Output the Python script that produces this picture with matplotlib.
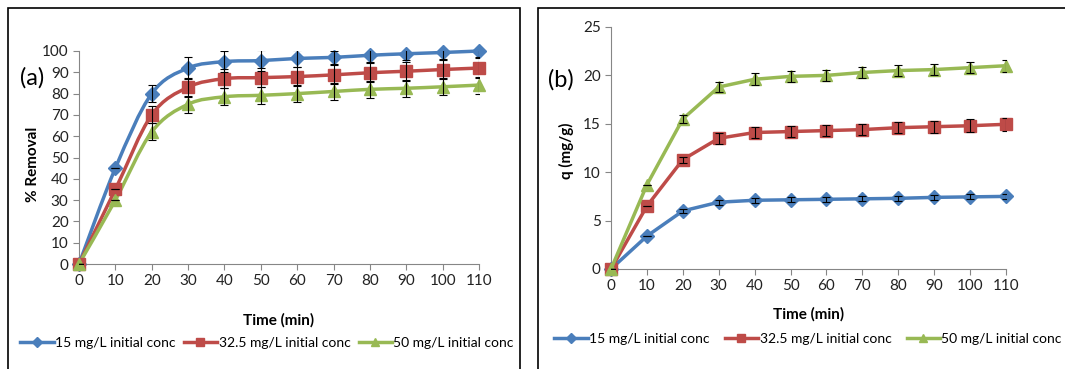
import matplotlib
matplotlib.use('Agg')
import matplotlib.pyplot as plt
import numpy as np
from matplotlib.path import Path
from matplotlib.patches import PathPatch, Rectangle
from matplotlib.lines import Line2D

plt.rcParams['font.family'] = ['Lato', 'DejaVu Sans']

# Data
time = [0, 10, 20, 30, 40, 50, 60, 70, 80, 90, 100, 110]
labels = ['15 mg/L initial conc', '32.5 mg/L initial conc', '50 mg/L initial conc']

removal_15 = [0, 45, 80, 92, 95, 95.5, 96.5, 97, 98, 98.7, 99.3, 100]
removal_32 = [0, 35, 70, 83, 87, 87.5, 88, 88.8, 89.8, 90.5, 91.3, 92]
removal_50 = [0, 30, 62, 75, 78.5, 79.2, 80, 81, 82, 82.5, 83.2, 84]
removal_err_15 = [0, 0, 4, 5, 5, 5, 4, 3, 3, 3, 3, 3]
removal_err_32 = [0, 0, 4, 4.5, 4.5, 4.5, 4.5, 4.5, 4.5, 4.5, 4.5, 4.5]
removal_err_50 = [0, 0, 4, 4, 4, 4, 4, 4, 4, 4, 4, 4]

q_15 = [0, 3.4, 6.0, 6.9, 7.1, 7.15, 7.2, 7.25, 7.3, 7.4, 7.45, 7.5]
q_32 = [0, 6.5, 11.3, 13.5, 14.1, 14.2, 14.3, 14.4, 14.6, 14.7, 14.8, 14.95]
q_50 = [0, 8.7, 15.5, 18.8, 19.6, 19.9, 20.0, 20.3, 20.5, 20.6, 20.8, 21.0]
q_err_15 = [0, 0, 0.2, 0.25, 0.25, 0.25, 0.25, 0.25, 0.25, 0.25, 0.25, 0.25]
q_err_32 = [0, 0, 0.3, 0.6, 0.6, 0.6, 0.6, 0.6, 0.6, 0.6, 0.65, 0.7]
q_err_50 = [0, 0, 0.4, 0.5, 0.6, 0.6, 0.6, 0.6, 0.6, 0.6, 0.6, 0.6]

colors = ['#4A7EBB', '#BE4B48', '#98B954']
markers = ['D', 's', '^']
msizes = [7, 9, 9]


def smooth_path(x, y):
    # Excel-style smoothed line: cubic Bezier through the points
    x = np.asarray(x, float)
    y = np.asarray(y, float)
    verts = [(x[0], y[0])]
    codes = [Path.MOVETO]
    n = len(x)
    for i in range(n - 1):
        p0 = (x[max(i - 1, 0)], y[max(i - 1, 0)])
        p1 = (x[i], y[i])
        p2 = (x[i + 1], y[i + 1])
        p3 = (x[min(i + 2, n - 1)], y[min(i + 2, n - 1)])
        c1 = (p1[0] + (p2[0] - p0[0]) / 6, p1[1] + (p2[1] - p0[1]) / 6)
        c2 = (p2[0] - (p3[0] - p1[0]) / 6, p2[1] - (p3[1] - p1[1]) / 6)
        verts += [c1, c2, p2]
        codes += [Path.CURVE4] * 3
    return Path(verts, codes)


fig = plt.figure(figsize=(10.65, 3.69), dpi=100)

# panel boxes
for x0, w in [(8, 512), (538, 560)]:
    fig.patches.append(Rectangle((x0 / 1065, -0.05), w / 1065, (369 - 8) / 369 + 0.05,
                                 transform=fig.transFigure, fill=False,
                                 edgecolor='black', linewidth=1.2))

ax1 = fig.add_axes([79 / 1065, 1 - 264 / 369, 400 / 1065, 213 / 369])
ax2 = fig.add_axes([611 / 1065, 1 - 269 / 369, 395 / 1065, 242 / 369])

# Panel (a) - smoothed lines
for vals, err, c, m, ms in zip([removal_15, removal_32, removal_50],
                               [removal_err_15, removal_err_32, removal_err_50],
                               colors, markers, msizes):
    ax1.add_patch(PathPatch(smooth_path(time, vals), fill=False, edgecolor=c,
                            linewidth=2.5, zorder=2, clip_on=False))
    ax1.plot(time, vals, linestyle='None', color=c, marker=m, markersize=ms,
             zorder=3, clip_on=False)
    ax1.errorbar(time, vals, yerr=err, fmt='none', ecolor='black', elinewidth=0.8,
                 capsize=3, capthick=0.8, zorder=4)

# Panel (b) - straight lines
for vals, err, c, m, ms in zip([q_15, q_32, q_50],
                               [q_err_15, q_err_32, q_err_50],
                               colors, markers, msizes):
    ax2.plot(time, vals, color=c, marker=m, markersize=ms, linewidth=2.5,
             zorder=3, clip_on=False)
    ax2.errorbar(time, vals, yerr=err, fmt='none', ecolor='black', elinewidth=0.8,
                 capsize=3, capthick=0.8, zorder=4)

for ax in (ax1, ax2):
    ax.set_xlim(0, 110)
    ax.set_xticks(time)
    for s in ['top', 'right']:
        ax.spines[s].set_visible(False)
    for s in ['left', 'bottom']:
        ax.spines[s].set_color('#868686')
    ax.tick_params(direction='out', length=4, color='#868686', labelsize=11,
                   labelcolor='#222222')
    ax.set_xlabel('Time (min)', fontsize=11, fontweight='bold')

ax1.set_ylim(0, 100)
ax1.set_yticks(range(0, 101, 10))
ax1.set_ylabel('% Removal', fontsize=11, fontweight='bold')
ax1.yaxis.set_label_coords(-0.0975, 0.47)
ax1.xaxis.labelpad = 18

ax2.set_ylim(0, 25)
ax2.set_yticks(range(0, 26, 5))
ax2.set_ylabel('q (mg/g)', fontsize=11, fontweight='bold')
ax2.yaxis.set_label_coords(-0.094, 0.49)
ax2.xaxis.labelpad = 10

fig.text(20 / 1065, 1 - 78 / 369, '(a)', fontsize=17, va='center', ha='left')
fig.text(548 / 1065, 1 - 80 / 369, '(b)', fontsize=17, va='center', ha='left')

# legends with line + marker handles
handles = [Line2D([], [], color=c, marker=m, markersize=ms * 0.7, linewidth=2.5)
           for c, m, ms in zip(colors, markers, msizes)]
fig.legend(handles, labels, loc='center', bbox_to_anchor=(267 / 1065, 1 - 343 / 369),
           ncol=3, frameon=False, fontsize=10, handlelength=2.4, handletextpad=0.1,
           columnspacing=0.6, borderaxespad=0, borderpad=0)
fig.legend(handles, labels, loc='center', bbox_to_anchor=(808 / 1065, 1 - 339 / 369),
           ncol=3, frameon=False, fontsize=10, handlelength=2.4, handletextpad=0.1,
           columnspacing=1.1, borderaxespad=0, borderpad=0)

fig.savefig('out.png', dpi=100)
